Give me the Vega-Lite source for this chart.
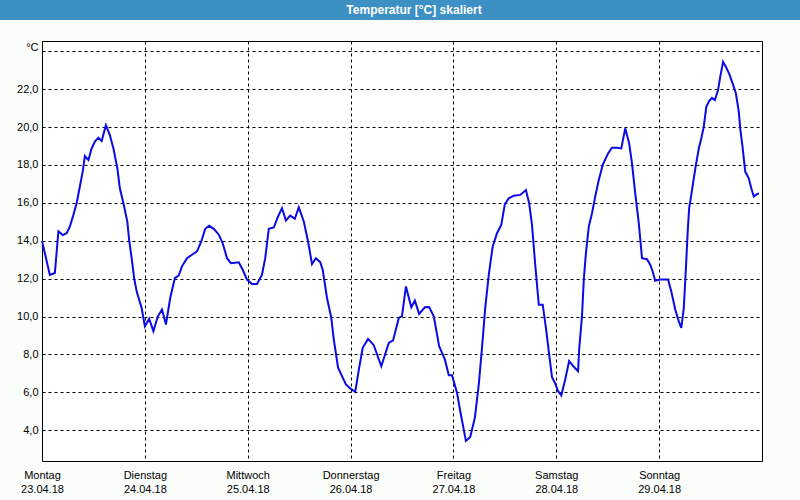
{
  "$schema": "https://vega.github.io/schema/vega-lite/v6.json",
  "background": "#fbfdfb",
  "padding": 0,
  "spacing": 20,
  "config": {"font": "Liberation Sans"},
  "vconcat": [
    {
      "width": 800,
      "height": 20,
      "view": {"fill": "#3d90c4", "stroke": null},
      "data": {"values": [{"titel": "Temperatur [°C] skaliert"}]},
      "mark": {"type": "text", "color": "white", "fontWeight": "bold", "fontSize": 12, "font": "Liberation Sans", "dx": 14},
      "encoding": {"text": {"field": "titel"}}
    },
    {
      "spacing": 0,
      "hconcat": [
        {
          "width": 0.01,
          "height": 420,
          "view": {"stroke": null},
          "data": {"values": []},
          "mark": {"type": "point", "opacity": 0}
        },
        {
          "width": 720,
          "height": 420,
          "view": {"stroke": "black", "strokeWidth": 1, "fill": "#ffffff"},
          "data": {"values": [
            {"zeit": "2018-04-23T00:00:00Z", "temp": 14.0},
            {"zeit": "2018-04-23T01:50:00Z", "temp": 12.2},
            {"zeit": "2018-04-23T03:00:00Z", "temp": 12.3},
            {"zeit": "2018-04-23T03:50:00Z", "temp": 14.5},
            {"zeit": "2018-04-23T04:50:00Z", "temp": 14.3},
            {"zeit": "2018-04-23T05:45:00Z", "temp": 14.4},
            {"zeit": "2018-04-23T06:30:00Z", "temp": 14.75},
            {"zeit": "2018-04-23T07:20:00Z", "temp": 15.37},
            {"zeit": "2018-04-23T08:05:00Z", "temp": 15.98},
            {"zeit": "2018-04-23T08:50:00Z", "temp": 16.86},
            {"zeit": "2018-04-23T09:30:00Z", "temp": 17.65},
            {"zeit": "2018-04-23T10:00:00Z", "temp": 18.47},
            {"zeit": "2018-04-23T10:50:00Z", "temp": 18.26},
            {"zeit": "2018-04-23T11:35:00Z", "temp": 18.87},
            {"zeit": "2018-04-23T12:20:00Z", "temp": 19.23},
            {"zeit": "2018-04-23T13:10:00Z", "temp": 19.44},
            {"zeit": "2018-04-23T13:55:00Z", "temp": 19.26},
            {"zeit": "2018-04-23T14:55:00Z", "temp": 20.1},
            {"zeit": "2018-04-23T15:50:00Z", "temp": 19.58},
            {"zeit": "2018-04-23T16:40:00Z", "temp": 18.87},
            {"zeit": "2018-04-23T17:35:00Z", "temp": 17.82},
            {"zeit": "2018-04-23T18:10:00Z", "temp": 16.77},
            {"zeit": "2018-04-23T19:00:00Z", "temp": 15.98},
            {"zeit": "2018-04-23T19:55:00Z", "temp": 15.0},
            {"zeit": "2018-04-23T20:20:00Z", "temp": 14.05},
            {"zeit": "2018-04-23T20:55:00Z", "temp": 13.08},
            {"zeit": "2018-04-23T21:30:00Z", "temp": 12.03},
            {"zeit": "2018-04-23T22:05:00Z", "temp": 11.33},
            {"zeit": "2018-04-23T22:40:00Z", "temp": 10.89},
            {"zeit": "2018-04-23T23:15:00Z", "temp": 10.45},
            {"zeit": "2018-04-24T00:00:00Z", "temp": 9.49},
            {"zeit": "2018-04-24T01:00:00Z", "temp": 9.89},
            {"zeit": "2018-04-24T02:00:00Z", "temp": 9.23},
            {"zeit": "2018-04-24T03:00:00Z", "temp": 10.0},
            {"zeit": "2018-04-24T04:00:00Z", "temp": 10.37},
            {"zeit": "2018-04-24T04:55:00Z", "temp": 9.58},
            {"zeit": "2018-04-24T05:55:00Z", "temp": 10.98},
            {"zeit": "2018-04-24T07:00:00Z", "temp": 12.03},
            {"zeit": "2018-04-24T07:55:00Z", "temp": 12.17},
            {"zeit": "2018-04-24T08:40:00Z", "temp": 12.65},
            {"zeit": "2018-04-24T09:50:00Z", "temp": 13.08},
            {"zeit": "2018-04-24T11:00:00Z", "temp": 13.26},
            {"zeit": "2018-04-24T12:10:00Z", "temp": 13.44},
            {"zeit": "2018-04-24T13:10:00Z", "temp": 13.96},
            {"zeit": "2018-04-24T14:05:00Z", "temp": 14.63},
            {"zeit": "2018-04-24T15:00:00Z", "temp": 14.79},
            {"zeit": "2018-04-24T16:05:00Z", "temp": 14.63},
            {"zeit": "2018-04-24T17:15:00Z", "temp": 14.32},
            {"zeit": "2018-04-24T18:10:00Z", "temp": 13.87},
            {"zeit": "2018-04-24T19:10:00Z", "temp": 13.08},
            {"zeit": "2018-04-24T20:05:00Z", "temp": 12.82},
            {"zeit": "2018-04-24T21:55:00Z", "temp": 12.86},
            {"zeit": "2018-04-24T22:50:00Z", "temp": 12.47},
            {"zeit": "2018-04-24T23:50:00Z", "temp": 11.95},
            {"zeit": "2018-04-25T01:00:00Z", "temp": 11.72},
            {"zeit": "2018-04-25T02:10:00Z", "temp": 11.72},
            {"zeit": "2018-04-25T03:20:00Z", "temp": 12.21},
            {"zeit": "2018-04-25T04:05:00Z", "temp": 13.08},
            {"zeit": "2018-04-25T04:55:00Z", "temp": 14.63},
            {"zeit": "2018-04-25T06:05:00Z", "temp": 14.7},
            {"zeit": "2018-04-25T07:05:00Z", "temp": 15.28},
            {"zeit": "2018-04-25T08:00:00Z", "temp": 15.72},
            {"zeit": "2018-04-25T08:55:00Z", "temp": 15.07},
            {"zeit": "2018-04-25T09:55:00Z", "temp": 15.33},
            {"zeit": "2018-04-25T11:00:00Z", "temp": 15.16},
            {"zeit": "2018-04-25T11:55:00Z", "temp": 15.77},
            {"zeit": "2018-04-25T13:05:00Z", "temp": 15.02},
            {"zeit": "2018-04-25T14:05:00Z", "temp": 13.96},
            {"zeit": "2018-04-25T15:00:00Z", "temp": 12.77},
            {"zeit": "2018-04-25T15:55:00Z", "temp": 13.08},
            {"zeit": "2018-04-25T16:55:00Z", "temp": 12.87},
            {"zeit": "2018-04-25T17:30:00Z", "temp": 12.47},
            {"zeit": "2018-04-25T18:30:00Z", "temp": 10.98},
            {"zeit": "2018-04-25T19:30:00Z", "temp": 9.93},
            {"zeit": "2018-04-25T20:05:00Z", "temp": 8.79},
            {"zeit": "2018-04-25T21:05:00Z", "temp": 7.3},
            {"zeit": "2018-04-25T22:00:00Z", "temp": 6.86},
            {"zeit": "2018-04-25T22:55:00Z", "temp": 6.42},
            {"zeit": "2018-04-25T23:55:00Z", "temp": 6.21},
            {"zeit": "2018-04-26T01:05:00Z", "temp": 6.03},
            {"zeit": "2018-04-26T02:00:00Z", "temp": 7.29},
            {"zeit": "2018-04-26T02:50:00Z", "temp": 8.35},
            {"zeit": "2018-04-26T04:05:00Z", "temp": 8.82},
            {"zeit": "2018-04-26T05:25:00Z", "temp": 8.49},
            {"zeit": "2018-04-26T07:10:00Z", "temp": 7.38},
            {"zeit": "2018-04-26T08:55:00Z", "temp": 8.61},
            {"zeit": "2018-04-26T09:55:00Z", "temp": 8.74},
            {"zeit": "2018-04-26T11:15:00Z", "temp": 9.93},
            {"zeit": "2018-04-26T12:00:00Z", "temp": 10.02},
            {"zeit": "2018-04-26T12:55:00Z", "temp": 11.59},
            {"zeit": "2018-04-26T14:10:00Z", "temp": 10.49},
            {"zeit": "2018-04-26T15:00:00Z", "temp": 10.84},
            {"zeit": "2018-04-26T16:00:00Z", "temp": 10.14},
            {"zeit": "2018-04-26T17:20:00Z", "temp": 10.49},
            {"zeit": "2018-04-26T18:20:00Z", "temp": 10.5},
            {"zeit": "2018-04-26T19:25:00Z", "temp": 10.02},
            {"zeit": "2018-04-26T20:40:00Z", "temp": 8.44},
            {"zeit": "2018-04-26T22:00:00Z", "temp": 7.74},
            {"zeit": "2018-04-26T22:55:00Z", "temp": 6.91},
            {"zeit": "2018-04-26T23:40:00Z", "temp": 6.91},
            {"zeit": "2018-04-27T00:50:00Z", "temp": 5.98},
            {"zeit": "2018-04-27T01:35:00Z", "temp": 5.02},
            {"zeit": "2018-04-27T02:55:00Z", "temp": 3.44},
            {"zeit": "2018-04-27T03:55:00Z", "temp": 3.65},
            {"zeit": "2018-04-27T05:00:00Z", "temp": 4.66},
            {"zeit": "2018-04-27T05:55:00Z", "temp": 6.42},
            {"zeit": "2018-04-27T06:40:00Z", "temp": 8.35},
            {"zeit": "2018-04-27T07:25:00Z", "temp": 10.45},
            {"zeit": "2018-04-27T08:15:00Z", "temp": 12.21},
            {"zeit": "2018-04-27T09:10:00Z", "temp": 13.7},
            {"zeit": "2018-04-27T10:10:00Z", "temp": 14.4},
            {"zeit": "2018-04-27T11:10:00Z", "temp": 14.84},
            {"zeit": "2018-04-27T12:00:00Z", "temp": 15.93},
            {"zeit": "2018-04-27T12:55:00Z", "temp": 16.24},
            {"zeit": "2018-04-27T14:05:00Z", "temp": 16.38},
            {"zeit": "2018-04-27T15:35:00Z", "temp": 16.42},
            {"zeit": "2018-04-27T16:55:00Z", "temp": 16.68},
            {"zeit": "2018-04-27T17:40:00Z", "temp": 15.98},
            {"zeit": "2018-04-27T18:20:00Z", "temp": 14.84},
            {"zeit": "2018-04-27T19:05:00Z", "temp": 12.74},
            {"zeit": "2018-04-27T19:55:00Z", "temp": 10.63},
            {"zeit": "2018-04-27T20:50:00Z", "temp": 10.63},
            {"zeit": "2018-04-27T21:35:00Z", "temp": 9.4},
            {"zeit": "2018-04-27T22:20:00Z", "temp": 8.0},
            {"zeit": "2018-04-27T23:00:00Z", "temp": 6.8},
            {"zeit": "2018-04-27T23:40:00Z", "temp": 6.51},
            {"zeit": "2018-04-28T00:25:00Z", "temp": 6.07},
            {"zeit": "2018-04-28T01:10:00Z", "temp": 5.84},
            {"zeit": "2018-04-28T02:05:00Z", "temp": 6.68},
            {"zeit": "2018-04-28T03:00:00Z", "temp": 7.65},
            {"zeit": "2018-04-28T04:05:00Z", "temp": 7.35},
            {"zeit": "2018-04-28T05:05:00Z", "temp": 7.12},
            {"zeit": "2018-04-28T05:20:00Z", "temp": 8.26},
            {"zeit": "2018-04-28T06:00:00Z", "temp": 10.02},
            {"zeit": "2018-04-28T06:25:00Z", "temp": 11.95},
            {"zeit": "2018-04-28T06:55:00Z", "temp": 13.35},
            {"zeit": "2018-04-28T07:35:00Z", "temp": 14.75},
            {"zeit": "2018-04-28T08:20:00Z", "temp": 15.45},
            {"zeit": "2018-04-28T09:05:00Z", "temp": 16.33},
            {"zeit": "2018-04-28T09:55:00Z", "temp": 17.21},
            {"zeit": "2018-04-28T10:50:00Z", "temp": 18.0},
            {"zeit": "2018-04-28T12:05:00Z", "temp": 18.61},
            {"zeit": "2018-04-28T13:00:00Z", "temp": 18.91},
            {"zeit": "2018-04-28T14:10:00Z", "temp": 18.91},
            {"zeit": "2018-04-28T15:10:00Z", "temp": 18.87},
            {"zeit": "2018-04-28T16:05:00Z", "temp": 19.93},
            {"zeit": "2018-04-28T17:00:00Z", "temp": 19.14},
            {"zeit": "2018-04-28T17:40:00Z", "temp": 18.08},
            {"zeit": "2018-04-28T18:25:00Z", "temp": 16.51},
            {"zeit": "2018-04-28T19:15:00Z", "temp": 14.93},
            {"zeit": "2018-04-28T20:00:00Z", "temp": 13.08},
            {"zeit": "2018-04-28T21:10:00Z", "temp": 13.03},
            {"zeit": "2018-04-28T21:55:00Z", "temp": 12.74},
            {"zeit": "2018-04-28T22:30:00Z", "temp": 12.38},
            {"zeit": "2018-04-28T23:05:00Z", "temp": 11.89},
            {"zeit": "2018-04-29T00:15:00Z", "temp": 11.95},
            {"zeit": "2018-04-29T02:05:00Z", "temp": 11.95},
            {"zeit": "2018-04-29T02:50:00Z", "temp": 11.33},
            {"zeit": "2018-04-29T03:45:00Z", "temp": 10.37},
            {"zeit": "2018-04-29T04:35:00Z", "temp": 9.75},
            {"zeit": "2018-04-29T05:10:00Z", "temp": 9.4},
            {"zeit": "2018-04-29T05:45:00Z", "temp": 10.45},
            {"zeit": "2018-04-29T06:15:00Z", "temp": 12.56},
            {"zeit": "2018-04-29T06:40:00Z", "temp": 14.49},
            {"zeit": "2018-04-29T07:00:00Z", "temp": 15.72},
            {"zeit": "2018-04-29T07:30:00Z", "temp": 16.42},
            {"zeit": "2018-04-29T08:05:00Z", "temp": 17.29},
            {"zeit": "2018-04-29T08:35:00Z", "temp": 18.0},
            {"zeit": "2018-04-29T09:15:00Z", "temp": 18.87},
            {"zeit": "2018-04-29T09:50:00Z", "temp": 19.4},
            {"zeit": "2018-04-29T10:25:00Z", "temp": 20.02},
            {"zeit": "2018-04-29T11:00:00Z", "temp": 21.07},
            {"zeit": "2018-04-29T11:40:00Z", "temp": 21.37},
            {"zeit": "2018-04-29T12:20:00Z", "temp": 21.54},
            {"zeit": "2018-04-29T13:00:00Z", "temp": 21.42},
            {"zeit": "2018-04-29T13:45:00Z", "temp": 21.95},
            {"zeit": "2018-04-29T14:15:00Z", "temp": 22.65},
            {"zeit": "2018-04-29T14:55:00Z", "temp": 23.44},
            {"zeit": "2018-04-29T15:35:00Z", "temp": 23.17},
            {"zeit": "2018-04-29T16:20:00Z", "temp": 22.82},
            {"zeit": "2018-04-29T17:10:00Z", "temp": 22.29},
            {"zeit": "2018-04-29T17:55:00Z", "temp": 21.77},
            {"zeit": "2018-04-29T18:35:00Z", "temp": 20.81},
            {"zeit": "2018-04-29T18:55:00Z", "temp": 19.93},
            {"zeit": "2018-04-29T19:30:00Z", "temp": 18.87},
            {"zeit": "2018-04-29T20:05:00Z", "temp": 17.65},
            {"zeit": "2018-04-29T20:55:00Z", "temp": 17.29},
            {"zeit": "2018-04-29T21:30:00Z", "temp": 16.77},
            {"zeit": "2018-04-29T22:05:00Z", "temp": 16.33},
            {"zeit": "2018-04-29T22:35:00Z", "temp": 16.42},
            {"zeit": "2018-04-29T23:15:00Z", "temp": 16.51}
          ]},
          "mark": {"type": "line", "color": "#0a0ae6", "strokeWidth": 2, "interpolate": "linear"},
          "encoding": {
            "x": {
              "field": "zeit",
              "type": "temporal",
              "scale": {
                "type": "utc",
                "domain": [
                  {"year": 2018, "month": 4, "date": 23, "utc": true},
                  {"year": 2018, "month": 4, "date": 30, "utc": true}
                ]
              },
              "axis": {
                "values": [
                  {"year": 2018, "month": 4, "date": 23, "utc": true},
                  {"year": 2018, "month": 4, "date": 24, "utc": true},
                  {"year": 2018, "month": 4, "date": 25, "utc": true},
                  {"year": 2018, "month": 4, "date": 26, "utc": true},
                  {"year": 2018, "month": 4, "date": 27, "utc": true},
                  {"year": 2018, "month": 4, "date": 28, "utc": true},
                  {"year": 2018, "month": 4, "date": 29, "utc": true}
                ],
                "labelExpr": "[['Sonntag','Montag','Dienstag','Mittwoch','Donnerstag','Freitag','Samstag'][utcday(datum.value)], utcFormat(datum.value, '%d.%m.%y')]",
                "title": null,
                "grid": true,
                "gridColor": "black",
                "gridDash": [3, 3],
                "gridOpacity": 1,
                "gridWidth": 1,
                "ticks": false,
                "domain": false,
                "labelColor": "black",
                "labelFont": "Liberation Sans",
                "labelFontSize": 11,
                "labelPadding": 8,
                "labelLineHeight": 14,
                "labelAlign": "center",
                "labelBaseline": "top",
                "labelFlush": false,
                "labelOverlap": false,
                "minExtent": 40,
                "maxExtent": 40
              }
            },
            "y": {
              "field": "temp",
              "type": "quantitative",
              "scale": {"domain": [2.38, 24.54], "nice": false, "zero": false},
              "axis": {
                "values": [4, 6, 8, 10, 12, 14, 16, 18, 20, 22, 24],
                "labelExpr": "datum.value == 24 ? '' : replace(format(datum.value, '.1f'), '.', ',')",
                "title": "°C",
                "titleAngle": 0,
                "titleAlign": "right",
                "titleBaseline": "middle",
                "titleX": -4,
                "titleY": 6,
                "titleFont": "Liberation Sans",
                "titleFontSize": 11,
                "titleFontWeight": "normal",
                "titleColor": "black",
                "grid": true,
                "gridColor": "black",
                "gridDash": [3, 3],
                "gridOpacity": 1,
                "gridWidth": 1,
                "ticks": false,
                "domain": false,
                "labelColor": "black",
                "labelFont": "Liberation Sans",
                "labelFontSize": 11,
                "labelPadding": 4,
                "minExtent": 40,
                "maxExtent": 40
              }
            }
          }
        }
      ]
    }
  ]
}
